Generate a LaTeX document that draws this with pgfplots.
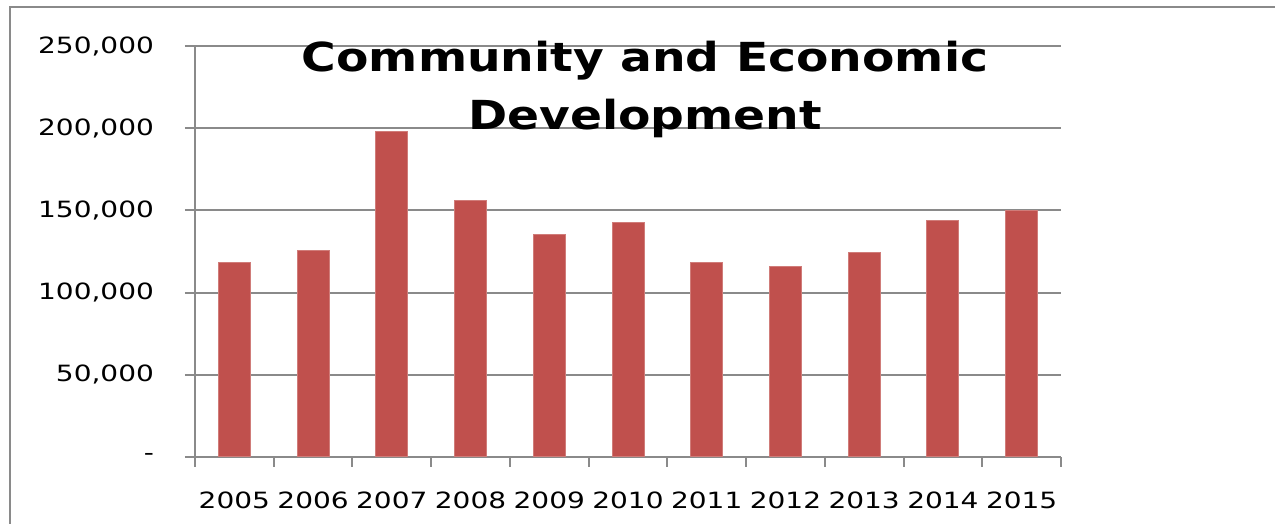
\documentclass[border=0pt]{standalone}
\usepackage{fontspec}
\setmainfont{DejaVu Sans}[FakeStretch=1.25]
\newfontfamily\titlefont{DejaVu Sans}[FakeStretch=1.18]
\usepackage{pgfplots}
\pgfplotsset{compat=1.18}
\definecolor{barred}{HTML}{C0504D}
\definecolor{axgray}{HTML}{8A8A8A}

\begin{document}
\begin{tikzpicture}[x=1pt,y=1pt]
\clip (0,0) rectangle (637.5,262);
\draw[axgray, line width=1pt] (5,-20) rectangle (700,258.5);
\begin{axis}[
  at={(97.5pt,33.5pt)}, anchor=south west,
  scale only axis, width=433pt, height=205.5pt,
  xmin=-0.5, xmax=10.5, ymin=0, ymax=250000,
  axis x line*=bottom, axis y line*=left,
  axis line style={axgray, line width=1pt, -},
  ybar, bar width=16pt,
  xtick={-0.5,0.5,...,10.5},
  x tick label as interval,
  xticklabels={2005,2006,2007,2008,2009,2010,2011,2012,2013,2014,2015},
  ytick={0,50000,100000,150000,200000,250000},
  yticklabels={{-},{50,000},{100,000},{150,000},{200,000},{250,000}},
  scaled y ticks=false,
  tick align=outside,
  major tick length=5pt,
  tick style={axgray, line width=1pt},
  ymajorgrids,
  grid style={axgray, line width=1pt},
  /pgf/number format/assume math mode=true,
  tick label style={font=\fontsize{11.2}{13}\selectfont, text=black},
  yticklabel style={anchor=east, xshift=-12pt},
  xticklabel style={yshift=-9pt},
]
\addplot[fill=barred, draw=barred!75!white, line width=0.5pt] coordinates {
  (0,118300) (1,125800) (2,198200) (3,156100) (4,135500) (5,142600)
  (6,118500) (7,116000) (8,124500) (9,144000) (10,149700)
};
\end{axis}
\node[font=\titlefont\bfseries\fontsize{20}{24}\selectfont, anchor=base, inner sep=0pt] at (322.5,226) {Community and Economic};
\node[font=\titlefont\bfseries\fontsize{20}{24}\selectfont, anchor=base, inner sep=0pt] at (322.5,197) {Development};
\end{tikzpicture}
\end{document}
